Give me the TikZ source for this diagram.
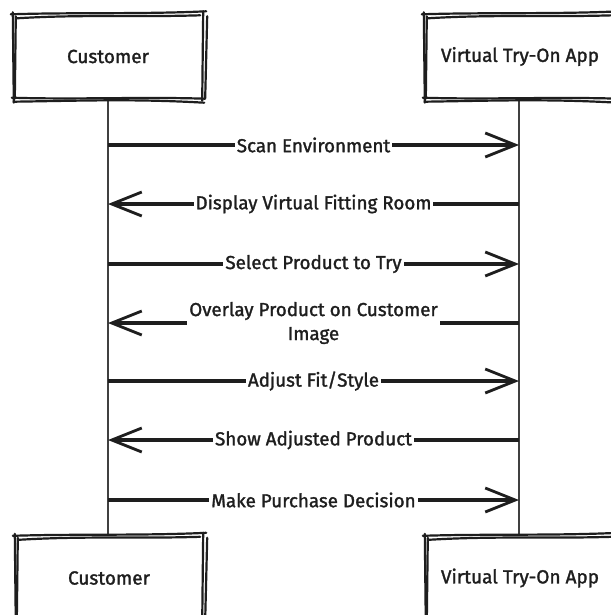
\documentclass[tikz,border=0pt]{standalone}
\usepackage{fontspec}
\setmainfont{Fira Sans}[FakeBold=1.5]
\usetikzlibrary{arrows.meta}
\definecolor{ink}{HTML}{1E1E1E}
\tikzset{
  actor/.style={minimum width=190pt, minimum height=86pt, inner sep=0pt, font=\fontsize{19}{24}\selectfont, text=ink},
  skl/.style={draw=ink, line width=2.2pt, line cap=round, line join=round},
  life/.style={draw=ink!85, line width=2pt},
  msg/.style={draw=ink, line width=3.2pt, -{Straight Barb[length=30pt,width=24pt,line width=2.8pt]}},
  lbl/.style={fill=white, inner xsep=2pt, inner ysep=1pt, align=center, font=\fontsize{18.8}{24}\selectfont, text=ink}
}
\newcommand\skbox[1]{%
  \draw[skl] ([shift={(-2,1)}]#1.north west) .. controls ([shift={(60,-1)}]#1.north west) and ([shift={(-60,1)}]#1.north east) .. ([shift={(3,-2)}]#1.north east);
  \draw[skl] ([shift={(4,5)}]#1.north west) .. controls ([shift={(70,1)}]#1.north west) and ([shift={(-70,4)}]#1.north east) .. ([shift={(-3,2)}]#1.north east);
  \draw[skl] ([shift={(0,-1)}]#1.north west) -- ([shift={(1,3)}]#1.south west);
  \draw[skl] ([shift={(3,3)}]#1.north west) -- ([shift={(2,-1)}]#1.south west);
  \draw[skl] ([shift={(0,-2)}]#1.north east) -- ([shift={(-1,1)}]#1.south east);
  \draw[skl] ([shift={(4,3)}]#1.north east) -- ([shift={(2,-2)}]#1.south east);
  \draw[skl] ([shift={(-1,-2)}]#1.south west) .. controls ([shift={(60,0)}]#1.south west) and ([shift={(-60,-3)}]#1.south east) .. ([shift={(2,-1)}]#1.south east);
  \draw[skl] ([shift={(1,2)}]#1.south west) .. controls ([shift={(70,1)}]#1.south west) and ([shift={(-70,-1)}]#1.south east) .. ([shift={(1,3)}]#1.south east);
}
\begin{document}
\begin{tikzpicture}[x=1pt,y=-1pt]
\useasboundingbox[fill=white] (0,0) rectangle (610,615);
% actors
\node[actor] (ctop) at (108,56.5) {Customer};
\node[actor,minimum width=192pt] (atop) at (520,56.5) {Virtual Try-On App};
\node[actor,minimum width=188pt] (cbot) at (109,578) {Customer};
\node[actor,minimum width=190pt] (abot) at (520,578) {Virtual Try-On App};
% lifelines
\coordinate (cl1) at (108,99);
\coordinate (cl2) at (108,534);
\coordinate (al1) at (519,99);
\coordinate (al2) at (519,535);
\draw[life] (cl1) -- (cl2);
\draw[life] (al1) -- (al2);
\skbox{ctop}
\skbox{atop}
\skbox{cbot}
\skbox{abot}
% message coordinates
\foreach \i/\y in {1/145,2/204,3/264,4/323,5/381,6/440,7/500}{
  \coordinate (c\i) at (108,\y);
  \coordinate (a\i) at (519,\y);
}
\draw[msg] (c1) -- node[lbl]{Scan Environment} (a1);
\draw[msg] (a2) -- node[lbl]{Display Virtual Fitting Room} (c2);
\draw[msg] (c3) -- node[lbl]{Select Product to Try} (a3);
\draw[msg] (a4) -- node[lbl]{Overlay Product on Customer\\Image} (c4);
\draw[msg] (c5) -- node[lbl]{Adjust Fit/Style} (a5);
\draw[msg] (a6) -- node[lbl]{Show Adjusted Product} (c6);
\draw[msg] (c7) -- node[lbl]{Make Purchase Decision} (a7);
\end{tikzpicture}
\end{document}
